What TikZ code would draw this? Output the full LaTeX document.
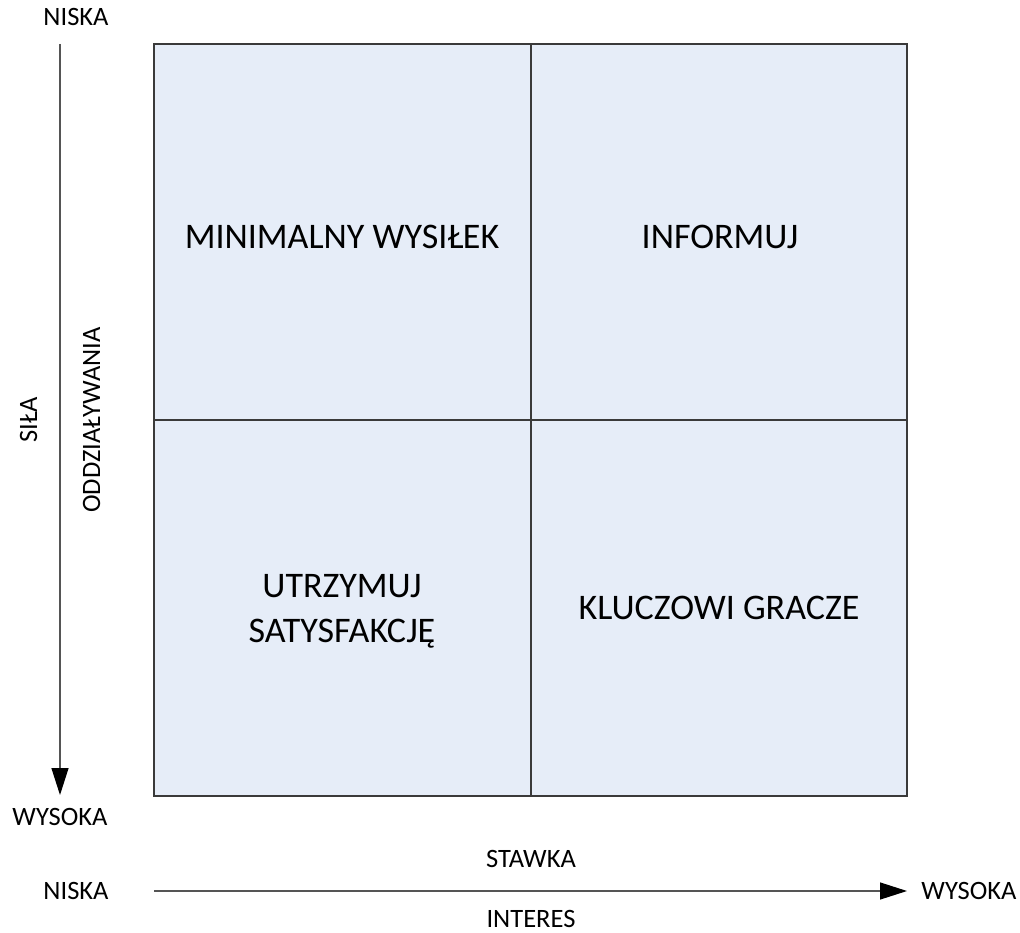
\documentclass[tikz,border=0pt]{standalone}
\usepackage{fontspec}
\setmainfont{Carlito}
\usetikzlibrary{arrows.meta}
\definecolor{cellfill}{HTML}{E6EDF8}
\definecolor{gridline}{HTML}{3A3A3A}
\definecolor{axisline}{HTML}{555555}
\begin{document}
\begin{tikzpicture}[x=1pt,y=-1pt,
  cell/.style={draw=gridline,line width=1.5pt,fill=cellfill},
  axis/.style={draw=axisline,line width=1.3pt,-{Triangle[length=27pt,width=17pt,fill=black,color=black]}},
  small/.style={font=\fontsize{26.5}{31}\selectfont,inner sep=0pt,anchor=base},
  big/.style={font=\fontsize{36}{44}\selectfont,inner sep=0pt,anchor=base,align=center}]
\useasboundingbox (0,0) rectangle (1020,933);

% quadrant cells
\path[cell] (154,44) rectangle (531,420);
\path[cell] (531,44) rectangle (907,420);
\path[cell] (154,420) rectangle (531,796);
\path[cell] (531,420) rectangle (907,796);

% quadrant labels
\node[big] (q1) at (342,249) {MINIMALNY WYSIŁEK};
\node[big] (q2) at (720,249) {INFORMUJ};
\node[big] (q3a) at (342,597) {UTRZYMUJ};
\node[big] (q3b) at (342,642) {SATYSFAKCJĘ};
\node[big] (q4) at (719,619) {KLUCZOWI GRACZE};

% vertical axis
\coordinate (vs) at (60,44);
\coordinate (ve) at (60,795);
\draw[axis] (vs) -- (ve);
\node[small] (vlow) at (76,26) {NISKA};
\node[small] (vhigh) at (60,825) {WYSOKA};
\node[small,rotate=90] (vlab1) at (37,420) {SIŁA};
\node[small,rotate=90] (vlab2) at (100,420) {ODDZIAŁYWANIA};

% horizontal axis
\coordinate (hs) at (154,891);
\coordinate (he) at (907,891);
\draw[axis] (hs) -- (he);
\node[small] (hlow) at (76,899) {NISKA};
\node[small] (hhigh) at (969,899) {WYSOKA};
\node[small] (hlab1) at (531,867) {STAWKA};
\node[small] (hlab2) at (531,927) {INTERES};
\end{tikzpicture}
\end{document}
